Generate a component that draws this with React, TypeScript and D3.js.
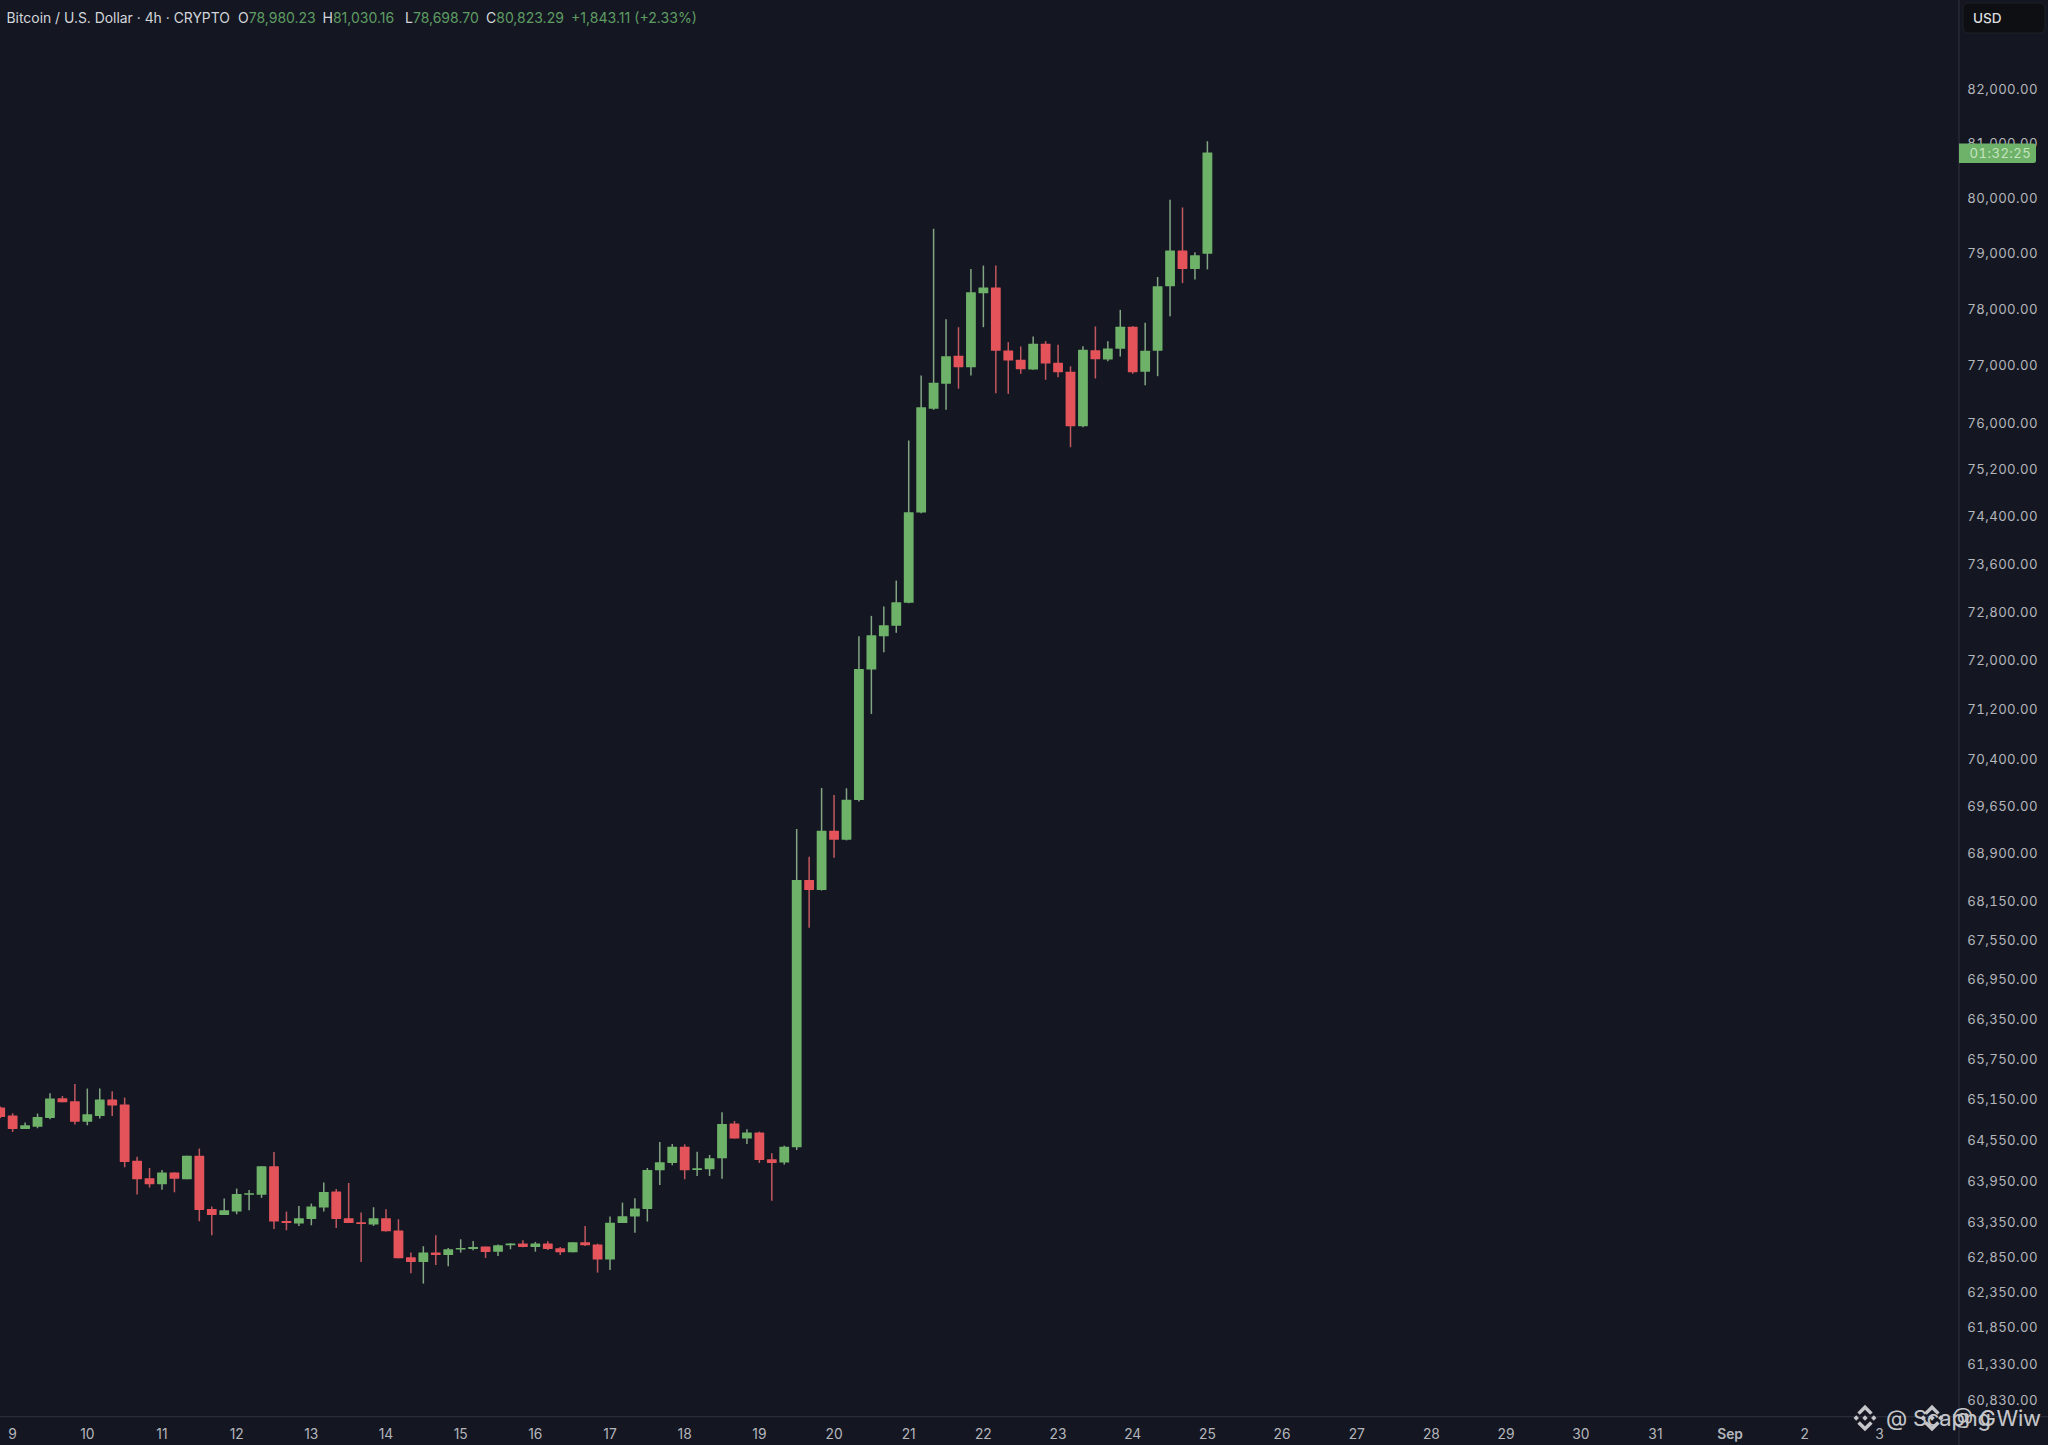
import React from "react";
import * as d3 from "d3";

const opens = [
  65020, 64902, 64705, 64735, 64867, 65158, 65113, 64812, 64897, 65138,
  65065, 64238, 63981, 63894, 64064, 63967, 64312, 63536, 63449, 63498,
  63749, 63740, 64157, 63363, 63324, 63392, 63556, 63787, 63401, 63343,
  63310, 63401, 63223, 62840, 62774, 62907, 62874, 62960, 62960, 62993,
  62921, 63012, 63036, 62988, 63036, 62969, 62912, 63055, 63022, 62807,
  63333, 63425, 63536, 64098, 64205, 64444, 64117, 64113, 64273, 64783,
  64562, 64651, 64259, 64210, 64434, 68480, 68325, 69253, 69111, 69739,
  71842, 72389, 72561, 72942, 74458, 76238, 76675, 77165, 76963, 78274,
  78376, 77258, 77094, 76923, 77377, 77041, 76883, 75936, 77264, 77099,
  77288, 77676, 76887, 77253, 78399, 79036, 78708, 78980.23,
];
const closes = [
  64881, 64705, 64758, 64882, 65153, 65098, 64812, 64921, 65138, 65050,
  64220, 63967, 63894, 64064, 63976, 64312, 63521, 63449, 63516, 63754,
  63764, 64157, 63353, 63333, 63401, 63570, 63781, 63392, 63333, 63319,
  63401, 63214, 62826, 62774, 62907, 62874, 62955, 62974, 62988, 62917,
  63012, 63036, 62988, 63036, 62960, 62912, 63055, 63012, 62807, 63338,
  63430, 63541, 64103, 64215, 64444, 64098, 64127, 64273, 64778, 64562,
  64651, 64249, 64205, 64444, 68480, 68325, 69253, 69111, 69744, 71853,
  72406, 72571, 72951, 74463, 76266, 76692, 77158, 76963, 78292, 78376,
  77253, 77081, 76929, 77377, 77028, 76876, 75936, 77271, 77104, 77294,
  77676, 76876, 77253, 78399, 79036, 78708, 78951, 80823.29,
];
const highs = [
  65035, 64936, 64798, 64931, 65233, 65193, 65372, 65302, 65302, 65262,
  65168, 64297, 64132, 64103, 64069, 64312, 64416, 63570, 63686, 63831,
  63812, 64157, 64365, 63498, 63580, 63614, 63918, 63826, 63913, 63484,
  63560, 63531, 63387, 62907, 62998, 63156, 62974, 63098, 63074, 62993,
  63022, 63041, 63084, 63060, 63070, 62988, 63055, 63290, 63036, 63425,
  63628, 63691, 64132, 64513, 64483, 64478, 64370, 64322, 64950, 64822,
  64700, 64665, 64346, 64458, 69280, 68844, 69931, 69819, 69925, 72389,
  72726, 72880, 73313, 75690, 76819, 79430, 77811, 77669, 78708, 78767,
  78767, 77405, 77329, 77506, 77423, 77359, 76981, 77335, 77681, 77423,
  77977, 77687, 77747, 78563, 79958, 79817, 79005, 81030.16,
];
const lows = [
  64861, 64660, 64705, 64715, 64847, 65098, 64768, 64758, 64857, 64897,
  64142, 63744, 63845, 63816, 63777, 63967, 63358, 63156, 63449, 63459,
  63516, 63696, 63247, 63228, 63290, 63300, 63498, 63262, 63333, 62774,
  63290, 63209, 62826, 62612, 62465, 62731, 62712, 62907, 62941, 62831,
  62860, 62955, 62983, 62921, 62945, 62874, 62912, 63002, 62621, 62660,
  63333, 63194, 63354, 63884, 64171, 63967, 64015, 64015, 63976, 64562,
  64483, 64205, 63656, 64181, 64396, 67740, 68315, 68828, 69100, 69717,
  71120, 72124, 72446, 72935, 74446, 76221, 76221, 76588, 76819, 77669,
  76511, 76499, 76849, 76918, 76744, 76789, 75575, 75919, 76767, 77069,
  77152, 76849, 76649, 76807, 77864, 78453, 78516, 78698.7,
];

const priceTicks = [
  82000, 81000, 80000, 79000, 78000, 77000, 76000, 75200, 74400, 73600,
  72800, 72000, 71200, 70400, 69650, 68900, 68150, 67550, 66950, 66350,
  65750, 65150, 64550, 63950, 63350, 62850, 62350, 61850, 61330, 60830,
];
const dayLabels = [
  "9", "10", "11", "12", "13", "14", "15", "16", "17", "18", "19", "20", "21",
  "22", "23", "24", "25", "26", "27", "28", "29", "30", "31", "Sep", "2", "3",
];
const barsPerDay = 6;
const firstDayBar = 1;

const headerTitle = "Bitcoin / U.S. Dollar · 4h · CRYPTO";
const headerOHLC: [string, string, number][] = [
  ["O", "78,980.23", 238],
  ["H", "81,030.16", 322.5],
  ["L", "78,698.70", 405],
  ["C", "80,823.29", 486],
];
const headerChange = "+1,843.11 (+2.33%)";
const countdown = "01:32:25";

const W = 2048;
const H = 1445;
const BG = "#141722";
const UP = "#6eb269";
const DOWN = "#e4535a";
const UP_WICK = "#83a583";
const DOWN_WICK = "#c2585f";
const LINE = "#2a2d38";
const TEXT = "#b4b6bc";
const FONT = "Inter, 'Noto Sans', sans-serif";

const x = d3.scaleLinear().domain([0, 97]).range([0.2, 1207.4]);
const y = d3.scaleLog().domain([82000, 60830]).range([89, 1400]);
const fmt = d3.format(",.2f");
const BODY = 9.8;

function Binance({ cx, cy, size }: { cx: number; cy: number; size: number }) {
  const s = size / 24;
  return (
    <g transform={`translate(${cx - 12 * s},${cy - 12 * s}) scale(${s})`} fill="#e4e5e7">
      <path d="M12 9.6 14.4 12 12 14.4 9.6 12Z" />
      <path d="M4.2 9.6 6.6 12 4.2 14.4 1.8 12Z" />
      <path d="M19.8 9.6 22.2 12 19.8 14.4 17.4 12Z" />
      <path d="M7.4 9.2 12 4.6 16.6 9.2 18.8 7 12 .2 5.2 7Z" />
      <path d="M7.4 14.8 12 19.4 16.6 14.8 18.8 17 12 23.8 5.2 17Z" />
    </g>
  );
}

export default function App() {
  return (
    <svg
      width={W}
      height={H}
      viewBox={`0 0 ${W} ${H}`}
      style={{ position: "absolute", left: 0, top: 0, display: "block" }}
      fontFamily={FONT}
    >
      <rect width={W} height={H} fill={BG} />

      {/* candles */}
      <g>
        {opens.map((o, i) => {
          const c = closes[i];
          const up = c >= o;
          const top = y(Math.max(o, c));
          const bottom = y(Math.min(o, c));
          const cx = x(i);
          return (
            <g key={i}>
              <line
                x1={cx}
                x2={cx}
                y1={y(highs[i])}
                y2={y(lows[i])}
                stroke={up ? UP_WICK : DOWN_WICK}
                strokeWidth={1.5}
              />
              <rect
                x={cx - BODY / 2}
                y={top}
                width={BODY}
                height={Math.max(bottom - top, 1.6)}
                rx={0.4}
                fill={up ? UP : DOWN}
              />
            </g>
          );
        })}
      </g>

      {/* axes */}
      <line x1={1959} x2={1959} y1={0} y2={H} stroke={LINE} strokeWidth={1.3} />
      <line x1={0} x2={W} y1={1416.7} y2={1416.7} stroke={LINE} strokeWidth={1.3} />

      {priceTicks.map((t) => (
        <text
          key={t}
          x={2038}
          y={y(t) + 0.5}
          dy="0.36em"
          textAnchor="end"
          fontSize={13.2}
          letterSpacing={0.42}
          style={{ fontVariantNumeric: "tabular-nums" }}
          fill={TEXT}
        >
          {fmt(t)}
        </text>
      ))}

      {dayLabels.map((d, k) => (
        <text
          key={d + k}
          x={x(firstDayBar + k * barsPerDay)}
          y={1434}
          dy="0.36em"
          textAnchor="middle"
          fontSize={13.8}
          fontWeight={d === "Sep" ? 600 : 400}
          fill={TEXT}
        >
          {d}
        </text>
      ))}

      {/* countdown price tag */}
      <path d="M1959 143.5H2033.5a2.5 2.5 0 0 1 2.5 2.5V160.5a2.5 2.5 0 0 1-2.5 2.5H1959Z" fill={UP} />
      <text
        x={1969.5}
        y={153.2}
        dy="0.36em"
        fontSize={13.2}
        letterSpacing={0.42}
        style={{ fontVariantNumeric: "tabular-nums" }}
        fill="#c3e3bf"
      >
        {countdown}
      </text>

      {/* USD button */}
      <rect x={1963} y={3} width={82} height={30} rx={5} fill="#0e0f13" stroke="#1f2128" />
      <text x={1973} y={18} dy="0.36em" fontSize={13.6} fontWeight={500} fill="#dcdddf">
        USD
      </text>

      {/* header */}
      <text x={6.5} y={18.3} dy="0.36em" fontSize={13.9} fill="#d3d5da">
        {headerTitle}
      </text>
      {headerOHLC.map(([k, v, px]) => (
        <text key={k} x={px} y={18.3} dy="0.36em" fontSize={14} fill="#d3d5da">
          {k}
          <tspan fill="#5f9c62">{v}</tspan>
        </text>
      ))}
      <text x={571} y={18.3} dy="0.36em" fontSize={14.1} fill="#5f9c62">
        {headerChange}
      </text>

      {/* watermark */}
      <g opacity={0.85}>
        <Binance cx={1865} cy={1418} size={27} />
        <Binance cx={1932} cy={1418} size={27} />
        <text x={1886} y={1418} dy="0.36em" fontSize={22} letterSpacing={-0.25} fill="#e4e5e7">
          @ Scapng Wiw
        </text>
        <text x={1952} y={1418} dy="0.36em" fontSize={22} fill="#e4e5e7">
          @ G
        </text>
      </g>
    </svg>
  );
}
